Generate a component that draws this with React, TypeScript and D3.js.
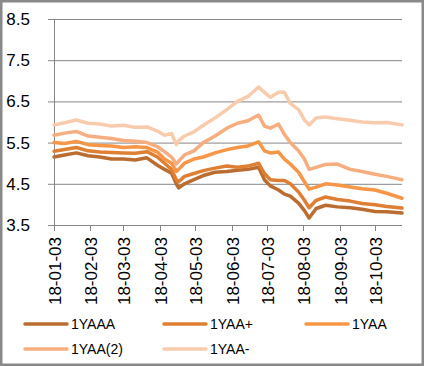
import * as d3 from 'd3';
import React from 'react';

const W = 424;
const H = 366;

const dates = [
  '2018-01-03', '2018-01-12', '2018-01-22', '2018-02-01', '2018-02-11', '2018-02-21',
  '2018-03-03', '2018-03-13', '2018-03-23', '2018-04-01', '2018-04-07', '2018-04-13',
  '2018-04-17', '2018-04-19', '2018-04-24', '2018-05-02', '2018-05-10', '2018-05-20',
  '2018-05-30', '2018-06-08', '2018-06-17', '2018-06-26', '2018-07-01', '2018-07-06',
  '2018-07-13', '2018-07-18', '2018-07-23', '2018-07-30', '2018-08-04', '2018-08-08',
  '2018-08-14', '2018-08-22', '2018-09-01', '2018-09-12', '2018-09-22', '2018-10-03',
  '2018-10-13', '2018-10-26',
];

const yaaa = [
  5.15, 5.2, 5.25, 5.18, 5.15, 5.1, 5.1, 5.08, 5.13, 4.95, 4.85, 4.76, 4.5, 4.4, 4.5, 4.6, 4.7, 4.78,
  4.8, 4.83, 4.85, 4.9, 4.6, 4.45, 4.35, 4.25, 4.2, 4.03, 3.85, 3.67, 3.9, 3.98, 3.94, 3.92, 3.88, 3.83,
  3.82, 3.79,
];
const yaaPlus = [
  5.29, 5.33, 5.38, 5.3, 5.27, 5.26, 5.25, 5.24, 5.28, 5.15, 5.0, 4.85, 4.6, 4.55, 4.68, 4.75, 4.82, 4.88,
  4.93, 4.9, 4.93, 5.0, 4.75, 4.6, 4.58, 4.58, 4.5, 4.3, 4.1, 3.92, 4.1, 4.18, 4.12, 4.08, 4.02, 3.99,
  3.95, 3.91,
];
const yaa = [
  5.5, 5.48, 5.53, 5.45, 5.43, 5.42, 5.38, 5.4, 5.38, 5.27, 5.1, 5.0, 4.8, 4.85, 5.0, 5.1, 5.15, 5.25,
  5.33, 5.38, 5.42, 5.52, 5.3, 5.25, 5.27, 5.1, 4.98, 4.78, 4.55, 4.37, 4.42, 4.5, 4.47, 4.42, 4.38, 4.35,
  4.27, 4.15,
];
const yaa2 = [
  5.68, 5.73, 5.77, 5.66, 5.63, 5.6, 5.55, 5.53, 5.5, 5.4, 5.28, 5.15, 4.98, 5.05, 5.2, 5.3, 5.5, 5.66,
  5.85, 5.97, 6.03, 6.17, 5.9, 5.85, 5.95, 5.7, 5.5, 5.3, 5.1, 4.85, 4.9, 4.97, 4.98, 4.85, 4.8, 4.73,
  4.68, 4.6,
];
const yaaMinus = [
  5.93, 5.98, 6.05, 5.97, 5.95, 5.9, 5.92, 5.87, 5.88, 5.78, 5.68, 5.72, 5.45, 5.55, 5.66, 5.76, 5.92, 6.1,
  6.3, 6.5, 6.62, 6.85, 6.72, 6.6, 6.72, 6.72, 6.45, 6.3, 6.05, 5.93, 6.1, 6.12, 6.08, 6.04, 6.0, 5.98,
  5.99, 5.93,
];

const yTicks = [3.5, 4.5, 5.5, 6.5, 7.5, 8.5];
const xTickDates = [
  '2018-01-03', '2018-02-03', '2018-03-03', '2018-04-03', '2018-05-03',
  '2018-06-03', '2018-07-03', '2018-08-03', '2018-09-03', '2018-10-03',
];

const series = [
  { name: '1YAAA', values: yaaa, color: '#bb6d31' },
  { name: '1YAA+', values: yaaPlus, color: '#df7f33' },
  { name: '1YAA', values: yaa, color: '#f79646' },
  { name: '1YAA(2)', values: yaa2, color: '#f6ae80' },
  { name: '1YAA-', values: yaaMinus, color: '#f9cbad' },
];

// legend slots, in reading order
const legendPos = [
  { x: 25, y: 324 },
  { x: 164, y: 324 },
  { x: 306, y: 324 },
  { x: 25, y: 349 },
  { x: 164, y: 349 },
];

const parse = d3.timeParse('%Y-%m-%d');
const fmt = d3.timeFormat('%y-%m-%d');
const font = '"Liberation Sans", Arial, sans-serif';

export default function App() {
  const left = 54;
  const right = 402;
  const top = 19;
  const bottom = 225;

  const parsed = dates.map(d => parse(d) as Date);
  const x = d3.scaleTime().domain([parse('2018-01-03') as Date, parse('2018-10-26') as Date]).range([left, right]);
  const y = d3.scaleLinear().domain([3.5, 8.5]).range([bottom, top]);

  const line = (vals: number[]) =>
    d3
      .line<number>()
      .x((_, i) => x(parsed[i]))
      .y(v => y(v))(vals) || '';

  return (
    <svg width={W} height={H} style={{ position: 'absolute', left: 0, top: 0 }} fontFamily={font}>
      <rect x={0} y={0} width={W} height={H} fill="#fff" />
      <rect x={1.25} y={1.25} width={W - 2.5} height={H - 2.5} fill="none" stroke="#898989" strokeWidth={2.5} />

      {yTicks.map(t => (
        <g key={t}>
          {t !== 3.5 && <line x1={left} x2={right} y1={y(t) + 0.5} y2={y(t) + 0.5} stroke="#868686" strokeWidth={1} />}
          <line x1={left - 6} x2={left} y1={y(t) + 0.5} y2={y(t) + 0.5} stroke="#868686" strokeWidth={1} />
          <text x={30} y={y(t) + 6} textAnchor="end" fontSize={17} fill="#000">
            {t.toFixed(1)}
          </text>
        </g>
      ))}
      <line x1={left + 0.5} x2={left + 0.5} y1={top} y2={bottom} stroke="#868686" strokeWidth={1} />
      <line x1={left} x2={right} y1={bottom + 0.5} y2={bottom + 0.5} stroke="#868686" strokeWidth={1} />

      {xTickDates.map(d => {
        const px = Math.round(x(parse(d) as Date)) + 0.5;
        return (
          <g key={d}>
            <line x1={px} x2={px} y1={bottom} y2={bottom + 6} stroke="#868686" strokeWidth={1} />
            <text
              transform={`translate(${px + 6},${bottom + 12}) rotate(-90)`}
              textAnchor="end"
              fontSize={17}
              fill="#000"
            >
              {fmt(parse(d) as Date)}
            </text>
          </g>
        );
      })}

      {series.map(s => (
        <path
          key={s.name}
          d={line(s.values)}
          fill="none"
          stroke={s.color}
          strokeWidth={3.5}
          strokeLinejoin="round"
          strokeLinecap="round"
        />
      ))}

      {series.map((s, i) => (
        <g key={s.name}>
          <line
            x1={legendPos[i].x}
            x2={legendPos[i].x + 42}
            y1={legendPos[i].y}
            y2={legendPos[i].y}
            stroke={s.color}
            strokeWidth={3.5}
            strokeLinecap="round"
          />
          <text x={legendPos[i].x + 46} y={legendPos[i].y + 5} fontSize={14} fill="#000">
            {s.name}
          </text>
        </g>
      ))}
    </svg>
  );
}
